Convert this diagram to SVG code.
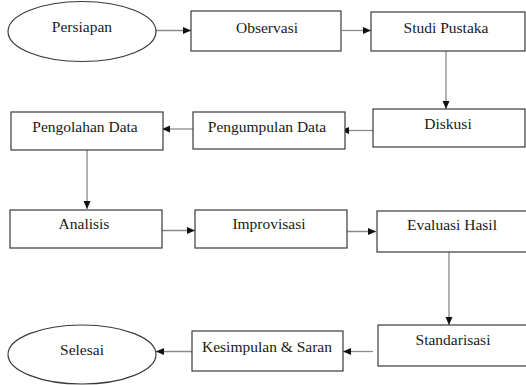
<svg xmlns="http://www.w3.org/2000/svg" width="526" height="385" viewBox="0 0 526 385">
  <style>
    .box { fill: #ffffff; stroke: #3a3a3a; stroke-width: 1.2; }
    .lbl { font-family: 'Liberation Serif', 'Times New Roman', serif; font-size: 15.5px; fill: #1a1a1a; text-anchor: middle; }
    .wire { stroke: #8a8a8a; stroke-width: 1.3; fill: none; marker-end: url(#head); }
  </style>
  <defs>
    <marker id="head" markerUnits="userSpaceOnUse" markerWidth="9" markerHeight="9" refX="8" refY="4" orient="auto">
      <path d="M0,0.5 L8,4 L0,7.5 Z" fill="#111111"/>
    </marker>
  </defs>
  <rect width="526" height="385" fill="#ffffff"/>

  <g id="connectors">
    <line class="wire" x1="156" y1="30.5" x2="191" y2="30.5"/>
    <line class="wire" x1="342" y1="30.5" x2="371" y2="30.5"/>
    <line class="wire" x1="446" y1="51" x2="446" y2="109"/>
    <line class="wire" x1="373" y1="130.5" x2="341" y2="130.5"/>
    <line class="wire" x1="193" y1="129" x2="162" y2="129"/>
    <line class="wire" x1="87" y1="150" x2="87" y2="209"/>
    <line class="wire" x1="162" y1="230.5" x2="195" y2="230.5"/>
    <line class="wire" x1="341" y1="231.5" x2="376" y2="231.5"/>
    <line class="wire" x1="449" y1="252" x2="449" y2="325"/>
    <line class="wire" x1="373" y1="351.5" x2="343" y2="351.5"/>
    <line class="wire" x1="192" y1="351.5" x2="156" y2="351.5"/>
  </g>

  <g id="persiapan">
    <ellipse class="box" cx="82" cy="31.5" rx="74" ry="30"/>
    <text class="lbl" x="82" y="32">Persiapan</text>
  </g>
  <g id="observasi">
    <rect class="box" x="191" y="11" width="150" height="40"/>
    <text class="lbl" x="267" y="33">Observasi</text>
  </g>
  <g id="studi-pustaka">
    <rect class="box" x="371" y="12" width="154" height="39"/>
    <text class="lbl" x="446" y="33">Studi Pustaka</text>
  </g>
  <g id="diskusi">
    <rect class="box" x="373" y="109" width="152" height="38"/>
    <text class="lbl" x="448" y="129">Diskusi</text>
  </g>
  <g id="pengumpulan-data">
    <rect class="box" x="193" y="112" width="152" height="37"/>
    <text class="lbl" x="267" y="131.5">Pengumpulan Data</text>
  </g>
  <g id="pengolahan-data">
    <rect class="box" x="11" y="112" width="152" height="38"/>
    <text class="lbl" x="85" y="131.5">Pengolahan Data</text>
  </g>
  <g id="analisis">
    <rect class="box" x="10" y="210" width="152" height="38"/>
    <text class="lbl" x="84" y="229">Analisis</text>
  </g>
  <g id="improvisasi">
    <rect class="box" x="195" y="210" width="152" height="38"/>
    <text class="lbl" x="269" y="229">Improvisasi</text>
  </g>
  <g id="evaluasi-hasil">
    <rect class="box" x="377" y="211" width="155" height="41"/>
    <text class="lbl" x="452" y="229.5">Evaluasi Hasil</text>
  </g>
  <g id="standarisasi">
    <rect class="box" x="378" y="325" width="155" height="41"/>
    <text class="lbl" x="453" y="345">Standarisasi</text>
  </g>
  <g id="kesimpulan-saran">
    <rect class="box" x="192" y="331" width="151" height="40"/>
    <text class="lbl" x="267" y="351.5">Kesimpulan &amp; Saran</text>
  </g>
  <g id="selesai">
    <ellipse class="box" cx="82" cy="354.5" rx="74" ry="29.5"/>
    <text class="lbl" x="82" y="355">Selesai</text>
  </g>
</svg>
